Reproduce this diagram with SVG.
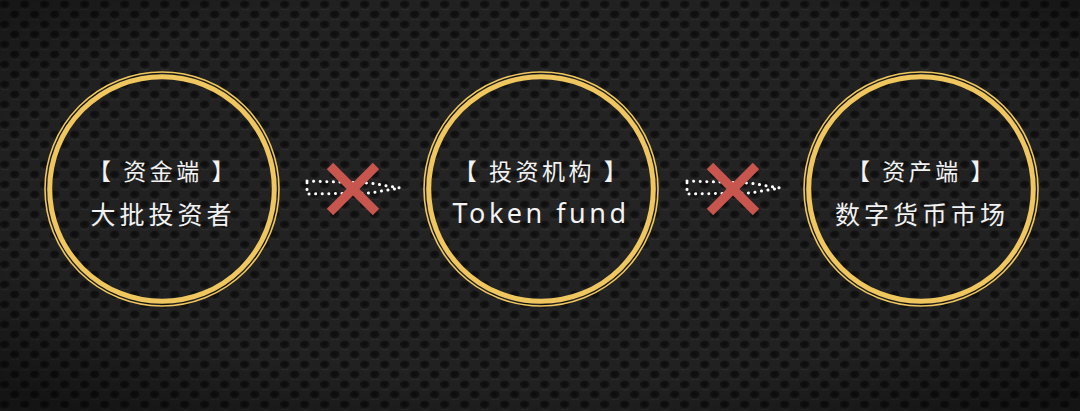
<svg xmlns="http://www.w3.org/2000/svg" width="1080" height="411" viewBox="0 0 1080 411">
<defs>
<radialGradient id="hole" cx="0.45" cy="0.4" r="0.6">
<stop offset="0" stop-color="#0d0d0d"/>
<stop offset="0.6" stop-color="#141414"/>
<stop offset="1" stop-color="#242424" stop-opacity="0"/>
</radialGradient>
<pattern id="carbon" width="20" height="20" patternUnits="userSpaceOnUse">
<rect width="20" height="20" fill="#242424"/>
<ellipse cx="5" cy="5" rx="5.5" ry="4.5" fill="url(#hole)"/>
<ellipse cx="15" cy="15" rx="5.5" ry="4.5" fill="url(#hole)"/>
<path d="M1 9 Q5 11 9 9" stroke="#313131" stroke-width="1" fill="none"/>
<path d="M11 19 Q15 21 19 19" stroke="#313131" stroke-width="1" fill="none"/>
</pattern>
<radialGradient id="vig" cx="0.5" cy="0.45" r="0.7">
<stop offset="0" stop-color="#000" stop-opacity="0"/>
<stop offset="0.7" stop-color="#000" stop-opacity="0.1"/>
<stop offset="1" stop-color="#000" stop-opacity="0.45"/>
</radialGradient>
<path id="arrow" d="M307 181 L370 183 L400 188 L370 193 L307 194 Z"/>
</defs>
<style>
.ring-o{fill:none;stroke:#f0c75e;stroke-width:1.6}
.ring-i{fill:none;stroke:#f0c75e;stroke-width:5}
.t1{font-family:"Noto Sans CJK SC","Noto Sans",sans-serif;font-size:23px;fill:#f2f2f2;text-anchor:middle;letter-spacing:3.5px}
.t2{font-family:"Noto Sans CJK SC","Noto Sans",sans-serif;font-size:25px;fill:#f2f2f2;text-anchor:middle;letter-spacing:4px}
.en{font-family:"Noto Sans","Open Sans",sans-serif;font-size:27px;fill:#f2f2f2;text-anchor:middle;letter-spacing:3.5px}
.dots{fill:none;stroke:#ffffff;stroke-width:3;stroke-dasharray:0.1 6.5;stroke-linecap:round;stroke-linejoin:round}
.x{stroke:#c8554e;stroke-width:9;stroke-linecap:butt}
</style>
<rect width="1080" height="411" fill="url(#carbon)"/>
<rect width="1080" height="411" fill="url(#vig)"/>
<g id="node-capital">
<circle class="ring-o" cx="162" cy="189" r="117"/>
<circle class="ring-i" cx="162" cy="189" r="112.3"/>
<text class="t1" x="163" y="180">【 资金端 】</text>
<text class="t2" x="163" y="224">大批投资者</text>
</g>
<g id="node-fund">
<circle class="ring-o" cx="541" cy="189" r="117"/>
<circle class="ring-i" cx="541" cy="189" r="112.3"/>
<text class="t1" x="542" y="180">【 投资机构 】</text>
<text class="en" x="541" y="223">Token fund</text>
</g>
<g id="node-asset">
<circle class="ring-o" cx="921" cy="189" r="117"/>
<circle class="ring-i" cx="921" cy="189" r="112.3"/>
<text class="t1" x="922" y="180">【 资产端 】</text>
<text class="t2" x="922" y="224">数字货币市场</text>
</g>
<g id="connectors">
<use href="#arrow" class="dots"/>
<line class="x" x1="330" y1="166" x2="376" y2="212"/>
<line class="x" x1="376" y1="166" x2="330" y2="212"/>
<use href="#arrow" class="dots" transform="translate(380,0)"/>
<line class="x" x1="710" y1="166" x2="756" y2="212"/>
<line class="x" x1="756" y1="166" x2="710" y2="212"/>
</g>
</svg>
